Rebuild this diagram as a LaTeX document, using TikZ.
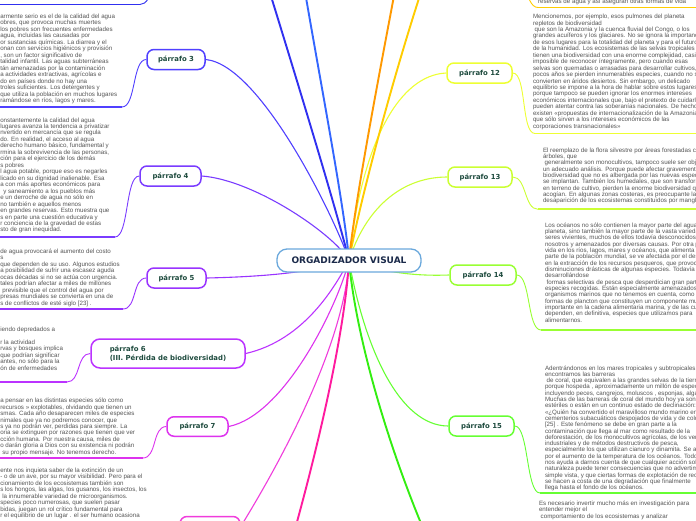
\documentclass[tikz,border=0pt]{standalone}
\usepackage{fontspec}
\setmainfont{Liberation Sans}
\newfontfamily\nodefont{DejaVu Sans}
\definecolor{txtgray}{HTML}{555555}
\definecolor{nodetxt}{HTML}{1E4B3E}
\definecolor{ctxt}{HTML}{1B2A4A}
\definecolor{cCenter}{HTML}{6AA8DC}
\definecolor{cA}{HTML}{3030F0}
\definecolor{cB}{HTML}{3366FF}
\definecolor{cP3}{HTML}{5040FF}
\definecolor{cP4}{HTML}{7A3CFF}
\definecolor{cP5}{HTML}{9933FF}
\definecolor{cP6}{HTML}{BB33FF}
\definecolor{cP7}{HTML}{DD33EE}
\definecolor{cP8}{HTML}{F03CDC}
\definecolor{cPink}{HTML}{FF1A9E}
\definecolor{cGreen}{HTML}{33EE11}
\definecolor{cP15}{HTML}{66FF33}
\definecolor{cP14}{HTML}{99FF33}
\definecolor{cP13}{HTML}{CCFF33}
\definecolor{cP12}{HTML}{EEFF33}
\definecolor{cYO}{HTML}{FFCC00}
\definecolor{cOr}{HTML}{FF9900}
\begin{document}
\begin{tikzpicture}[x=1pt,y=-1pt,
  topic/.style={draw=#1, line width=1.5pt, rounded corners=7pt, fill=white, inner sep=0pt, minimum height=20pt, text=nodetxt, font=\nodefont\bfseries\fontsize{6.9}{9}\selectfont},
  conn/.style={draw=#1, line width=1.1pt},
  connfar/.style={draw=#1, line width=1.9pt},
  uline/.style={draw=#1, line width=1.7pt},
  linkc/.style={draw=#1, line width=0.9pt},
  blk/.style={inner sep=0pt, outer sep=0pt, align=left, anchor=north west, text=txtgray, font=\fontsize{6.2}{#1}\selectfont},
]
\useasboundingbox (0,0) rectangle (696,520);
\clip (0,0) rectangle (696,520);
\fill[white] (0,0) rectangle (696,520);

\coordinate (hub) at (349,260.5);

% child topics
\node[topic=cP3, minimum width=58pt] (p3) at (176,59.5) {párrafo 3};
\node[topic=cP4, minimum width=61pt] (p4) at (170.5,176) {párrafo 4};
\node[topic=cP5, minimum width=59pt] (p5) at (176.5,278) {párrafo 5};
\node[topic=cP6, minimum width=154pt, minimum height=29pt, align=left, rounded corners=9pt] (p6) at (168,353.5) {párrafo 6\\(III. Pérdida de biodiversidad)};
\node[topic=cP7, minimum width=61pt, minimum height=19.5pt] (p7) at (197.5,426.5) {párrafo 7};
\node[topic=cP8, minimum width=60pt] (p8) at (210,526.5) {};
\node[topic=cP12, minimum width=65pt] (p12) at (479.5,73) {párrafo 12};
\node[topic=cP13, minimum width=64pt] (p13) at (480,177) {párrafo 13};
\node[topic=cP14, minimum width=66pt] (p14) at (483,275) {párrafo 14};
\node[topic=cP15, minimum width=65pt] (p15) at (481.5,426) {párrafo 15};

% off-picture ends
\coordinate (n1) at (266,-20);
\coordinate (n2) at (303,-20);
\coordinate (n10) at (397,-20);
\coordinate (n11) at (425,-20);
\coordinate (n9) at (292,540);
\coordinate (n16) at (428,540);
\coordinate (p2w) at (165,-30);
\coordinate (p11e) at (512,-35);

% connectors from the centre
\draw[connfar=cA] (hub) .. controls (338,215) and (300,90) .. (n1);
\draw[connfar=cB] (hub) .. controls (345,210) and (320,80) .. (n2);
\draw[conn=cP3] (hub) .. controls (338,225) and (262,65) .. (p3.east);
\draw[conn=cP4] (hub) .. controls (335,235) and (255,180) .. (p4.east);
\draw[conn=cP5] (hub) .. controls (310,274) and (250,277) .. (p5.east);
\draw[conn=cP6] (hub) .. controls (336,285) and (305,340) .. (p6.east);
\draw[conn=cP7] (hub) .. controls (338,305) and (285,415) .. (p7.east);
\draw[conn=cP8] (hub) .. controls (345,330) and (300,430) .. (p8.east);
\draw[connfar=cPink] (hub) .. controls (345,330) and (320,440) .. (n9);
\draw[connfar=cGreen] (hub) .. controls (355,330) and (385,440) .. (n16);
\draw[conn=cP15] (hub) .. controls (365,350) and (400,426) .. (p15.west);
\draw[conn=cP14] (hub) .. controls (388,274) and (420,276) .. (p14.west);
\draw[conn=cP13] (hub) .. controls (365,210) and (400,177) .. (p13.west);
\draw[conn=cP12] (hub) .. controls (362,140) and (400,75) .. (p12.west);
\draw[connfar=cYO] (hub) .. controls (360,200) and (395,70) .. (n11);
\draw[connfar=cOr] (hub) .. controls (355,200) and (380,70) .. (n10);

% centre topic
\node[draw=cCenter, line width=1.3pt, rounded corners=10pt, fill=white, minimum width=144pt, minimum height=23pt, inner sep=0pt, text=ctxt, font=\nodefont\bfseries\fontsize{9}{10}\selectfont] (c) at (hub) {ORGADIZADOR VISUAL};

% underline ends
\coordinate (u2) at (140,4.5);   \coordinate (u2l) at (-5,4.5);
\coordinate (u3) at (122,107);   \coordinate (u3l) at (-5,107);
\coordinate (u4) at (115,237);   \coordinate (u4l) at (-5,237);
\coordinate (u5) at (123,309);   \coordinate (u5l) at (-5,309);
\coordinate (u6) at (67,382);    \coordinate (u6l) at (-5,382);
\coordinate (u7) at (143,458);   \coordinate (u7l) at (-5,458);
\coordinate (u11) at (538,7.5);  \coordinate (u11r) at (700,7.5);
\coordinate (u12) at (535,133.5); \coordinate (u12r) at (700,133.5);
\coordinate (u13) at (538,209.3); \coordinate (u13r) at (700,209.3);
\coordinate (u14) at (541,330);  \coordinate (u14r) at (700,330);
\coordinate (u15) at (540,493);  \coordinate (u15r) at (700,493);

\draw[linkc=cA] (p2w) .. controls +(-14,0) and +(14,0) .. (u2);
\draw[uline=cA] (u2) -- (u2l);
\draw[linkc=cP3] (p3.west) .. controls +(-14,0) and +(14,0) .. (u3);
\draw[uline=cP3] (u3) -- (u3l);
\draw[linkc=cP4] (p4.west) .. controls +(-14,0) and +(14,0) .. (u4);
\draw[uline=cP4] (u4) -- (u4l);
\draw[linkc=cP5] (p5.west) .. controls +(-14,0) and +(14,0) .. (u5);
\draw[uline=cP5] (u5) -- (u5l);
\draw[linkc=cP6] (p6.west) .. controls +(-14,0) and +(14,0) .. (u6);
\draw[uline=cP6] (u6) -- (u6l);
\draw[linkc=cP7] (p7.west) .. controls +(-14,0) and +(14,0) .. (u7);
\draw[uline=cP7] (u7) -- (u7l);
\draw[linkc=cYO] (p11e) .. controls +(14,0) and +(-14,0) .. (u11);
\draw[uline=cYO] (u11) -- (u11r);
\draw[linkc=cP12] (p12.east) .. controls +(14,0) and +(-14,0) .. (u12);
\draw[uline=cP12] (u12) -- (u12r);
\draw[linkc=cP13] (p13.east) .. controls +(14,0) and +(-14,0) .. (u13);
\draw[uline=cP13] (u13) -- (u13r);
\draw[linkc=cP14] (p14.east) .. controls +(14,0) and +(-14,0) .. (u14);
\draw[uline=cP14] (u14) -- (u14r);
\draw[linkc=cP15] (p15.east) .. controls +(14,0) and +(-14,0) .. (u15);
\draw[uline=cP15] (u15) -- (u15r);

% text blocks, left side
\node[blk=6.5] (b3) at (0.3,13) {\rule{0pt}{5pt}armente serio es el de la calidad del agua\\
obres, que provoca muchas muertes\\
los pobres son frecuentes enfermedades\\
agua, incluidas las causadas por\\
or sustancias químicas. La diarrea y el\\
onan con servicios higiénicos y provisión\\
, son un factor significativo de\\
talidad infantil. Las aguas subterráneas\\
tán amenazadas por la contaminación\\
a actividades extractivas, agrícolas e\\
do en países donde no hay una\\
troles suficientes. Los detergentes y\\
que utiliza la población en muchos lugares\\
ramándose en ríos, lagos y mares.};

\node[blk=6.47] (b4) at (0.3,117) {\rule{0pt}{5pt}onstantemente la calidad del agua\\
lugares avanza la tendencia a privatizar\\
nvertido en mercancía que se regula\\
do. En realidad, el acceso al agua\\
derecho humano básico, fundamental y\\
rmina la sobrevivencia de las personas,\\
ción para el ejercicio de los demás\\
s pobres\\
l agua potable, porque eso es negarles\\
licado en su dignidad inalienable. Esa\\
a con más aportes económicos para\\
\hspace*{3pt}y saneamiento a los pueblos más\\
e un derroche de agua no sólo en\\
no también e aquellos menos\\
en grandes reservas. Esto muestra que\\
s en parte una cuestión educativa y\\
r conciencia de la gravedad de estas\\
sto de gran inequidad.};

\node[blk=6.5] (b5) at (0.3,248) {\rule{0pt}{5pt}de agua provocará el aumento del costo\\
s\\
que dependen de su uso. Algunos estudios\\
a posibilidad de sufrir una escasez aguda\\
ocas décadas si no se actúa con urgencia.\\
tales podrían afectar a miles de millones\\
\hspace*{2pt}previsible que el control del agua por\\
presas mundiales se convierta en una de\\
s de conflictos de esté siglo [23] .};

\node[blk=6.5] (b6) at (0.3,326.3) {\rule{0pt}{5pt}iendo depredados a\\
\mbox{}\\
r la actividad\\
rvas y bosques implica\\
que podrían significar\\
antes, no sólo para la\\
ón de enfermedades};

\node[blk=6.45] (b7) at (0.3,397.7) {\rule{0pt}{5pt}a pensar en las distintas especies sólo como\\
recursos » explotables, olvidando que tienen un\\
smas. Cada año desaparecen miles de especies\\
nimales que ya no podremos conocer, que\\
s ya no podrán ver, perdidas para siempre. La\\
oria se extinguen por razones que tienen que ver\\
cción humana. Por nuestra causa, miles de\\
o darán gloria a Dios con su existencia ni podrán\\
\hspace*{2pt}su propio mensaje. No tenemos derecho.};

\node[blk=6.5] (b8) at (0.3,467) {\rule{0pt}{5pt}ente nos inquieta saber de la extinción de un\\
- o de un ave, por su mayor visibilidad. Pero para el\\
cionamiento de los ecosistemas también son\\
s los hongos, las algas, los gusanos, los insectos, los\\
\hspace*{2pt}la innumerable variedad de microorganismos.\\
species poco numerosas, que suelen pasar\\
bidas, juegan un rol crítico fundamental para\\
r el equilibrio de un lugar . el ser humano ocasiona};

% text blocks, right side
\node[blk=6.4] (b11) at (538,-1.5) {\rule{0pt}{5pt}reservas de agua y así aseguran otras formas de vida};

\node[blk=6.43] (b12) at (533,13.7) {\rule{0pt}{5pt}Mencionemos, por ejemplo, esos pulmones del planeta\\
repletos de biodiversidad\\
\hspace*{1.7pt}que son la Amazonia y la cuenca fluvial del Congo, o los\\
grandes acuíferos y los glaciares. No se ignora la importancia\\
de esos lugares para la totalidad del planeta y para el futuro\\
de la humanidad. Los ecosistemas de las selvas tropicales\\
tienen una biodiversidad con una enorme complejidad, casi\\
imposible de reconocer íntegramente, pero cuando esas\\
selvas son quemadas o arrasadas para desarrollar cultivos, en\\
pocos años se pierden innumerables especies, cuando no se\\
convierten en áridos desiertos. Sin embargo, un delicado\\
equilibrio se impone a la hora de hablar sobre estos lugares,\\
porque tampoco se pueden ignorar los enormes intereses\\
económicos internacionales que, bajo el pretexto de cuidarlos,\\
pueden atentar contra las soberanías nacionales. De hecho,\\
existen «propuestas de internacionalización de la Amazonia,\\
que sólo sirven a los intereses económicos de las\\
corporaciones transnacionales»};

\node[blk=6.35] (b13) at (543,147) {\rule{0pt}{5pt}El reemplazo de la flora silvestre por áreas forestadas con\\
árboles, que\\
\hspace*{1.7pt}generalmente son monocultivos, tampoco suele ser objeto de\\
un adecuado análisis. Porque puede afectar gravemente a una\\
biodiversidad que no es albergada por las nuevas especies que\\
se implantan. También los humedales, que son transformados\\
en terreno de cultivo, pierden la enorme biodiversidad que\\
acogían. En algunas zonas costeras, es preocupante la\\
desaparición de los ecosistemas constituidos por manglares.};

\node[blk=6.35] (b14) at (545,222) {\rule{0pt}{5pt}Los océanos no sólo contienen la mayor parte del agua del\\
planeta, sino también la mayor parte de la vasta variedad de\\
seres vivientes, muchos de ellos todavía desconocidos para\\
nosotros y amenazados por diversas causas. Por otra parte, la\\
vida en los ríos, lagos, mares y océanos, que alimenta a gran\\
parte de la población mundial, se ve afectada por el descontrol\\
en la extracción de los recursos pesqueros, que provoca\\
disminuciones drásticas de algunas especies. Todavía siguen\\
desarrollándose\\
\hspace*{1.7pt}formas selectivas de pesca que desperdician gran parte de las\\
especies recogidas. Están especialmente amenazados\\
organismos marinos que no tenemos en cuenta, como ciertas\\
formas de plancton que constituyen un componente muy\\
importante en la cadena alimentaria marina, y de las cuales\\
dependen, en definitiva, especies que utilizamos para\\
alimentarnos.};

\node[blk=6.3] (b15) at (545,365) {\rule{0pt}{5pt}Adentrándonos en los mares tropicales y subtropicales,\\
encontramos las barreras\\
\hspace*{1.7pt}de coral, que equivalen a las grandes selvas de la tierra,\\
porque hospeda , aproximadamente un millón de especies,\\
incluyendo peces, cangrejos, moluscos , esponjas, algas,\\
Muchas de las barreras de coral del mundo hoy ya son\\
estériles o están en un continuo estado de declinación:\\
«¿Quién ha convertido el maravilloso mundo marino en\\
cementerios subacuáticos despojados de vida y de color?»\\
{[25]} . Este fenómeno se debe en gran parte a la\\
contaminación que llega al mar como resultado de la\\
deforestación, de los monocultivos agrícolas, de los vertidos\\
industriales y de métodos destructivos de pesca,\\
especialmente los que utilizan cianuro y dinamita. Se agrava\\
por el aumento de la temperatura de los océanos. Todo esto\\
nos ayuda a darnos cuenta de que cualquier acción sobre la\\
naturaleza puede tener consecuencias que no advertimos a\\
simple vista, y que ciertas formas de explotación de recursos\\
se hacen a costa de una degradación que finalmente\\
llega hasta el fondo de los océanos.};

\node[blk=6.4] (b16) at (539,500.3) {\rule{0pt}{5pt}Es necesario invertir mucho más en investigación para\\
entender mejor el\\
\hspace*{1.7pt}comportamiento de los ecosistemas y analizar};
\end{tikzpicture}
\end{document}
